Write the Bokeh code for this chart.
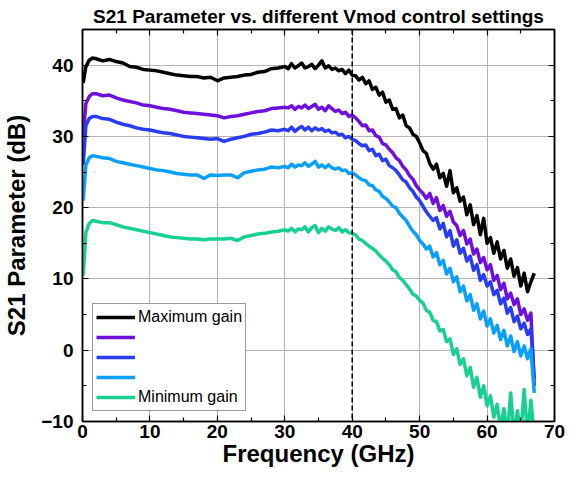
from bokeh.plotting import figure
from bokeh.models import Range1d, LinearAxis, Legend, LegendItem, Span, FixedTicker
from bokeh.embed import file_html
from bokeh.resources import INLINE

# Frequency sweep points (GHz)
freq = [0.1, 0.5, 1.0, 1.5,
        2, 3, 4, 5, 6, 7, 8, 9, 10, 11, 12, 13, 14, 15, 16, 17, 18, 19, 20,
        21, 22, 23, 24, 25, 26, 27, 28, 29, 30,
        30.5, 31, 31.5, 32, 32.5, 33, 33.5, 34, 34.5, 35,
        35.5, 36, 36.5, 37, 37.5, 38, 38.5, 39, 39.5, 40,
        40.5, 41, 41.5, 42, 42.5, 43, 43.5, 44, 44.5, 45,
        45.5, 46, 46.5, 47, 47.5, 48, 48.5, 49, 49.5, 50,
        50.5, 51, 51.5, 52, 52.5, 53, 53.5, 54, 54.5, 55,
        55.5, 56, 56.5, 57, 57.5, 58, 58.5, 59, 59.5, 60,
        60.5, 61, 61.5, 62, 62.5, 63, 63.5, 64, 64.5, 65,
        65.5, 66, 66.5, 67]

s21_max = [37.5, 39.8, 40.7, 41.0,
           40.9, 40.6, 40.8, 40.5, 40.3, 39.8, 39.7, 39.4, 39.3, 39.2, 39.0, 38.8, 38.6, 38.5, 38.4, 38.4, 38.2, 38.3, 37.8,
           38.2, 38.3, 38.4, 38.6, 38.7, 39.0, 39.1, 39.5, 39.6, 39.8,
           39.5, 40.2, 39.6, 39.9, 40.3, 39.6, 39.8, 40.1, 39.5, 40.0,
           40.6, 39.6, 39.9, 39.4, 39.6, 39.2, 39.4, 38.8, 39.3, 38.6,
           38.5, 37.9, 38.3, 37.4, 37.8, 36.6, 36.9, 35.8, 36.2, 34.8,
           35.1, 33.8, 33.9, 32.6, 33.0, 31.5, 31.2, 30.3, 30.0, 29.1,
           28.0, 27.6, 26.2, 25.4, 26.1, 24.2, 24.8, 23.0, 25.2, 22.1,
           22.8, 20.9, 21.5, 19.0, 20.4, 17.6, 18.9, 16.2, 18.5, 15.0,
           15.8, 13.6, 15.2, 12.8, 14.0, 11.5, 12.8, 10.4, 11.6, 9.0,
           10.8, 8.2, 9.6, 10.8]

s21_2 = [30.0, 34.6, 35.6, 36.0,
         36.0, 35.7, 35.8, 35.4, 35.1, 34.9, 34.7, 34.4, 34.3, 34.1, 33.9, 33.8, 33.6, 33.4, 33.3, 33.2, 33.1, 33.0, 32.9,
         32.6, 32.8, 32.9, 33.1, 33.3, 33.5, 33.6, 33.9, 34.0, 34.1,
         34.0, 34.3, 33.8, 34.2, 34.0, 34.4, 33.9, 34.2, 34.5, 33.8,
         34.1, 33.6, 34.3, 33.9, 33.5, 33.7, 33.2, 33.4, 32.8, 33.0,
         32.6, 32.1, 31.5, 31.6, 30.8, 30.9, 30.1, 29.9, 29.0, 28.8,
         28.2, 27.7, 27.0, 26.6, 25.8, 25.3, 24.5, 24.0, 23.1, 22.5,
         22.0, 21.3, 22.0, 20.6, 21.4, 19.6, 20.3, 18.8, 19.5, 18.0,
         17.5, 16.1, 16.8, 14.9, 15.6, 13.5, 14.2, 12.3, 13.0, 11.3,
         12.0, 9.8, 10.5, 8.5, 9.4, 7.2, 8.0, 6.4, 7.2, 5.0,
         5.8, 4.2, 5.2, -5.0]

s21_3 = [26.0, 31.5, 32.5, 32.8,
         32.8, 32.5, 32.4, 32.0, 31.7, 31.5, 31.2, 31.0, 30.9, 30.7, 30.5, 30.4, 30.2, 30.0, 29.9, 29.8, 29.7, 29.6, 29.7,
         29.3, 29.6, 29.8, 30.0, 30.3, 30.4, 30.6, 30.9, 30.8, 31.0,
         30.8, 31.3, 30.7, 31.1, 31.4, 30.9, 31.3, 30.8, 31.2, 30.9,
         31.1, 30.7, 30.9, 30.5, 30.6, 30.2, 30.3, 29.8, 30.0, 29.6,
         29.4, 29.0, 28.7, 28.8, 28.0, 28.2, 27.3, 27.5, 26.6, 26.8,
         25.9, 25.6, 25.2, 24.6, 23.9, 23.6, 22.8, 22.3, 21.5, 21.0,
         20.2, 19.4, 18.8, 18.2, 18.6, 17.0, 17.8, 15.9, 16.8, 14.6,
         15.5, 13.6, 14.3, 12.5, 13.2, 11.2, 12.0, 9.8, 10.6, 9.0,
         9.6, 7.8, 8.4, 6.5, 7.3, 5.2, 6.0, 4.0, 4.8, 3.0,
         3.8, 2.2, 3.0, -4.0]

s21_4 = [21.0, 26.0, 27.0, 27.3,
         27.2, 27.0, 26.9, 26.5, 26.3, 26.1, 25.9, 25.7, 25.5, 25.3, 25.2, 25.0, 24.8, 24.7, 24.6, 24.6, 24.1, 24.6, 24.5,
         24.6, 24.6, 24.2, 24.9, 25.1, 25.3, 25.4, 25.7, 25.6, 25.8,
         25.6, 26.1, 25.7, 26.0, 25.9, 26.3, 25.8, 26.1, 26.5, 25.7,
         26.0, 25.6, 26.0, 25.6, 25.4, 25.6, 25.2, 25.3, 24.8, 24.9,
         24.6, 24.2, 23.9, 23.8, 23.2, 23.1, 22.5, 22.3, 21.6, 21.3,
         20.8, 20.2, 20.0, 19.2, 18.7, 18.2, 17.4, 16.7, 16.2, 15.4,
         14.9, 14.2, 14.6, 13.1, 13.7, 12.0, 12.6, 10.7, 11.5, 9.6,
         10.3, 8.2, 9.0, 6.9, 7.8, 5.6, 6.5, 4.4, 5.5, 3.4,
         4.4, 2.4, 3.5, 1.5, 2.8, 0.6, 2.0, -0.2, 1.2, -0.8,
         0.6, -1.2, 0.2, -6.0]

s21_min = [10.5, 16.5, 17.8, 18.2,
           18.1, 17.9, 17.9, 17.6, 17.3, 17.1, 16.9, 16.7, 16.5, 16.3, 16.1, 15.9, 15.8, 15.7, 15.6, 15.6, 15.5, 15.6, 15.6,
           15.6, 15.7, 15.4, 15.9, 16.1, 16.3, 16.4, 16.6, 16.7, 16.9,
           16.7, 17.1, 16.6, 17.0, 16.9, 17.3, 16.6, 17.2, 17.5, 16.5,
           17.1, 16.7, 17.3, 17.0, 16.8, 17.2, 16.6, 16.9, 16.5, 16.4,
           16.2, 15.6, 15.4, 15.0, 14.6, 14.3, 13.9, 13.4, 12.9, 12.5,
           12.0, 11.3, 11.0, 10.2, 9.8, 9.2, 8.6, 7.9, 7.6, 7.0,
           6.6, 5.6, 5.3, 4.2, 4.0, 2.7, 2.9, 1.2, 1.6, -0.6,
           0.2, -2.0, -1.2, -3.6, -2.4, -5.2, -3.8, -6.6, -5.0, -7.8,
           -6.4, -9.4, -7.6, -11.0, -8.2, -12.0, -6.0, -12.0, -8.5, -12.0,
           -5.5, -12.0, -7.0, -12.0]

series = [s21_max, s21_2, s21_3, s21_4, s21_min]
labels = ["Maximum gain", " ", " ", " ", "Minimum gain"]
colors = ["#000000", "#6e0fdc", "#2a3cf0", "#0aa0f8", "#18d092"]

x_ticks = [0, 10, 20, 30, 40, 50, 60, 70]
y_ticks = [-10, 0, 10, 20, 30, 40]
x_minor = [5, 15, 25, 35, 45, 55, 65]
y_minor = [-5, 5, 15, 25, 35]
marker_freq = 40

FONT = "Liberation Sans"

p = figure(width=571, height=469, output_backend="svg", toolbar_location=None,
           x_range=Range1d(0, 70), y_range=Range1d(-10, 45),
           title="S21 Parameter vs. different Vmod control settings",
           min_border_left=74, min_border_right=17, min_border_top=0, min_border_bottom=0)

p.title.text_font = FONT
p.title.text_font_size = "19px"
p.title.text_font_style = "bold"
p.title.text_color = "black"
p.title.align = "center"
p.title.standoff = 6

p.outline_line_color = "black"
p.outline_line_width = 1.5
p.background_fill_color = "white"
p.border_fill_color = "white"

for g in (p.xgrid, p.ygrid):
    g.grid_line_color = "#b4b4b4"
    g.grid_line_width = 1
p.xgrid.ticker = FixedTicker(ticks=x_ticks)
p.ygrid.ticker = FixedTicker(ticks=y_ticks)

def style_axis(ax, ticks, minor, show_labels):
    ax.ticker = FixedTicker(ticks=ticks, minor_ticks=minor)
    ax.axis_line_color = "black"
    ax.axis_line_width = 1.5
    ax.major_tick_in = 6
    ax.major_tick_out = 0
    ax.minor_tick_in = 4
    ax.minor_tick_out = 0
    ax.major_tick_line_color = "black"
    ax.minor_tick_line_color = "black"
    ax.major_tick_line_width = 1.2
    ax.minor_tick_line_width = 1.2
    if show_labels:
        ax.major_label_text_font = FONT
        ax.major_label_text_font_style = "bold"
        ax.major_label_text_font_size = "19px"
        ax.major_label_text_color = "black"
        ax.axis_label_text_font = FONT
        ax.axis_label_text_font_style = "bold"
        ax.axis_label_text_font_size = "24px"
        ax.axis_label_text_color = "black"
    else:
        ax.major_label_text_font_size = "0px"
        ax.major_label_text_color = None
        ax.major_label_standoff = 0

style_axis(p.xaxis[0], x_ticks, x_minor, True)
style_axis(p.yaxis[0], y_ticks, y_minor, True)
p.xaxis[0].axis_label = "Frequency (GHz)"
p.yaxis[0].axis_label = "S21 Parameter (dB)"
p.xaxis[0].major_label_standoff = 3
p.yaxis[0].major_label_standoff = 9
p.xaxis[0].axis_label_standoff = -1
p.yaxis[0].axis_label_standoff = 8

top_ax = LinearAxis()
right_ax = LinearAxis()
style_axis(top_ax, x_ticks, x_minor, False)
style_axis(right_ax, y_ticks, y_minor, False)
p.add_layout(top_ax, "above")
p.add_layout(right_ax, "right")

renderers = []
for ys, c in zip(series, colors):
    r = p.line(freq, ys, line_color=c, line_width=3.5, line_join="round")
    renderers.append(r)

p.add_layout(Span(location=marker_freq, dimension="height", line_color="black",
                  line_width=1.5, line_dash="5 3"))

legend = Legend(items=[LegendItem(label=l, renderers=[r]) for l, r in zip(labels, renderers)],
                location="bottom_left")
legend.label_text_font = FONT
legend.label_text_font_size = "16px"
legend.label_text_color = "black"
legend.glyph_width = 39
legend.glyph_height = 20
legend.label_height = 20
legend.label_standoff = 3
legend.spacing = 0
legend.padding = 3
legend.margin = 10
legend.border_line_color = "#333333"
legend.border_line_width = 1
legend.background_fill_alpha = 1
p.add_layout(legend)

open("out.html", "w").write(file_html(p, INLINE))
